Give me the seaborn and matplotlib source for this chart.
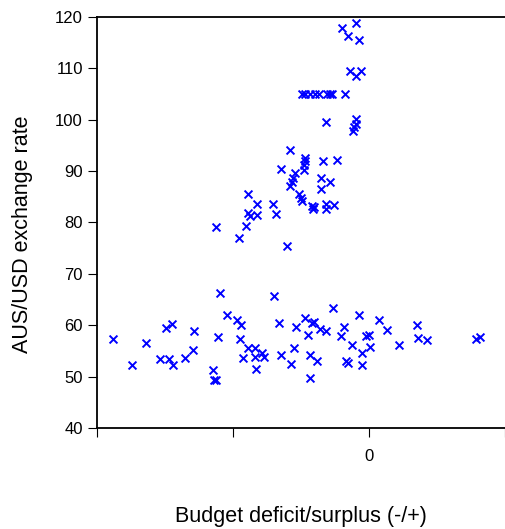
import numpy as np
import pandas as pd
import matplotlib
matplotlib.use("Agg")
import matplotlib.pyplot as plt
import seaborn as sns

# --- valores (deficit/superavit, tipo de cambio) ---
deficit_alto = [-2.00, -0.93, -1.52, -0.74, -1.42, -0.61, -0.93,
                -4.93, -4.71, -4.34, -3.97, -3.68, -3.09, -2.87, -2.72, -1.76,
                -3.21, -0.93, -0.93, -1.08, -1.18,
                -5.86, -4.71, -4.71, -4.78, -4.76, -3.40, -2.35,
                -6.47, -5.46, -5.61, -5.68, -5.81, -3.53, -2.89, -3.53,
                -8.90, -8.26, -7.11, -5.17, -4.98, -4.93,
                -4.21, -4.04, -4.14, -3.21, -2.55, -3.16,
                -8.92, -8.80, -8.26, -6.86,
                -11.30, -9.07, -9.61, -6.01]
cambio_alto = [117.9, 118.9, 116.3, 115.5, 109.5, 109.5, 108.5,
               105.1, 105.1, 105.1, 105.1, 105.1, 105.1, 105.1, 105.1, 105.1,
               99.6, 100.1, 99.2, 98.5, 97.9,
               94.1, 92.6, 92.0, 91.1, 90.2, 92.0, 92.2,
               90.4, 89.6, 88.6, 87.9, 87.1, 88.6, 87.8, 86.5,
               85.5, 83.6, 83.6, 85.6, 84.7, 84.2,
               83.3, 83.0, 82.6, 83.6, 83.5, 82.6,
               81.9, 81.3, 81.5, 81.6,
               79.1, 79.4, 77.0, 75.4]

deficit_bajo = [-18.85, -17.45, -16.42, -14.95, -14.51, -15.42, -14.76, -14.43,
                -12.87, -12.96, -13.53, -10.98, -10.49, -11.15, -11.47, -11.40, -11.27,
                -9.76, -9.46, -9.49, -9.26, -8.90, -8.43, -8.38, -7.85, -7.72, -8.29,
                -7.01, -6.62, -6.49, -5.76, -5.54, -5.37, -4.73, -4.51, -4.19, -4.07,
                -3.58, -3.18, -4.36, -3.80, -4.32, -2.67, -2.04, -1.84, -1.25, -1.71,
                -1.57, -0.76, -0.49, -0.54, -0.22, -0.02, 0.05, 0.76, 1.35, 2.21,
                3.53, 3.58, 4.26, 7.87, 8.16]
cambio_bajo = [57.3, 52.3, 56.5, 59.5, 60.3, 53.4, 53.4, 52.3,
               58.9, 55.2, 53.6, 66.3, 61.9, 57.8, 51.3, 49.4, 49.4,
               61.0, 60.0, 57.3, 53.7, 55.6, 55.6, 53.8, 54.6, 53.9, 51.5,
               65.6, 60.5, 54.2, 52.4, 55.6, 59.6, 61.5, 58.1, 60.5, 60.7,
               59.3, 58.9, 54.2, 53.0, 49.8, 63.4, 57.9, 59.6, 56.2, 53.0,
               52.7, 62.0, 54.6, 52.2, 58.0, 58.1, 55.7, 61.0, 59.0, 56.1,
               60.0, 57.6, 57.1, 57.3, 57.7]

x_ticks = [-20, -10, 0, 10]
x_tick_labels = ["", "", "0", ""]
y_ticks = [40, 50, 60, 70, 80, 90, 100, 110, 120]

df = pd.DataFrame({
    "deficit": deficit_alto + deficit_bajo,
    "cambio": cambio_alto + cambio_bajo,
})

sns.set_style("ticks")
plt.rcParams["font.family"] = ["Liberation Sans", "DejaVu Sans"]
plt.rcParams["text.color"] = "black"
plt.rcParams["axes.labelcolor"] = "black"

fig = plt.figure(figsize=(5.05, 5.29), dpi=100)
ax = fig.add_axes([0.1915, 0.1909, 0.8085, 0.777])

sns.scatterplot(data=df, x="deficit", y="cambio", marker="x", color="#0000ff",
                s=32, linewidth=1.4, ax=ax)

ax.set_xlim(-20.05, 10)
ax.set_ylim(40, 120)
ax.set_xticks(x_ticks)
ax.set_xticklabels(x_tick_labels)
ax.set_yticks(y_ticks)

for side in ["left", "bottom", "top"]:
    ax.spines[side].set_visible(True)
    ax.spines[side].set_linewidth(1.3)
    ax.spines[side].set_color("black")
ax.spines["right"].set_visible(False)

ax.tick_params(axis="both", direction="out", length=6.5, width=0.8,
               labelsize=12, colors="black")
ax.tick_params(axis="y", pad=3.5)
ax.tick_params(axis="x", pad=8.5)

ax.set_xlabel("Budget deficit/surplus (-/+)", fontsize=15.5, labelpad=30)
ax.set_ylabel("AUS/USD exchange rate", fontsize=15.5)
ax.yaxis.set_label_coords(-0.157, 0.472)

fig.savefig("out.png", dpi=100)
